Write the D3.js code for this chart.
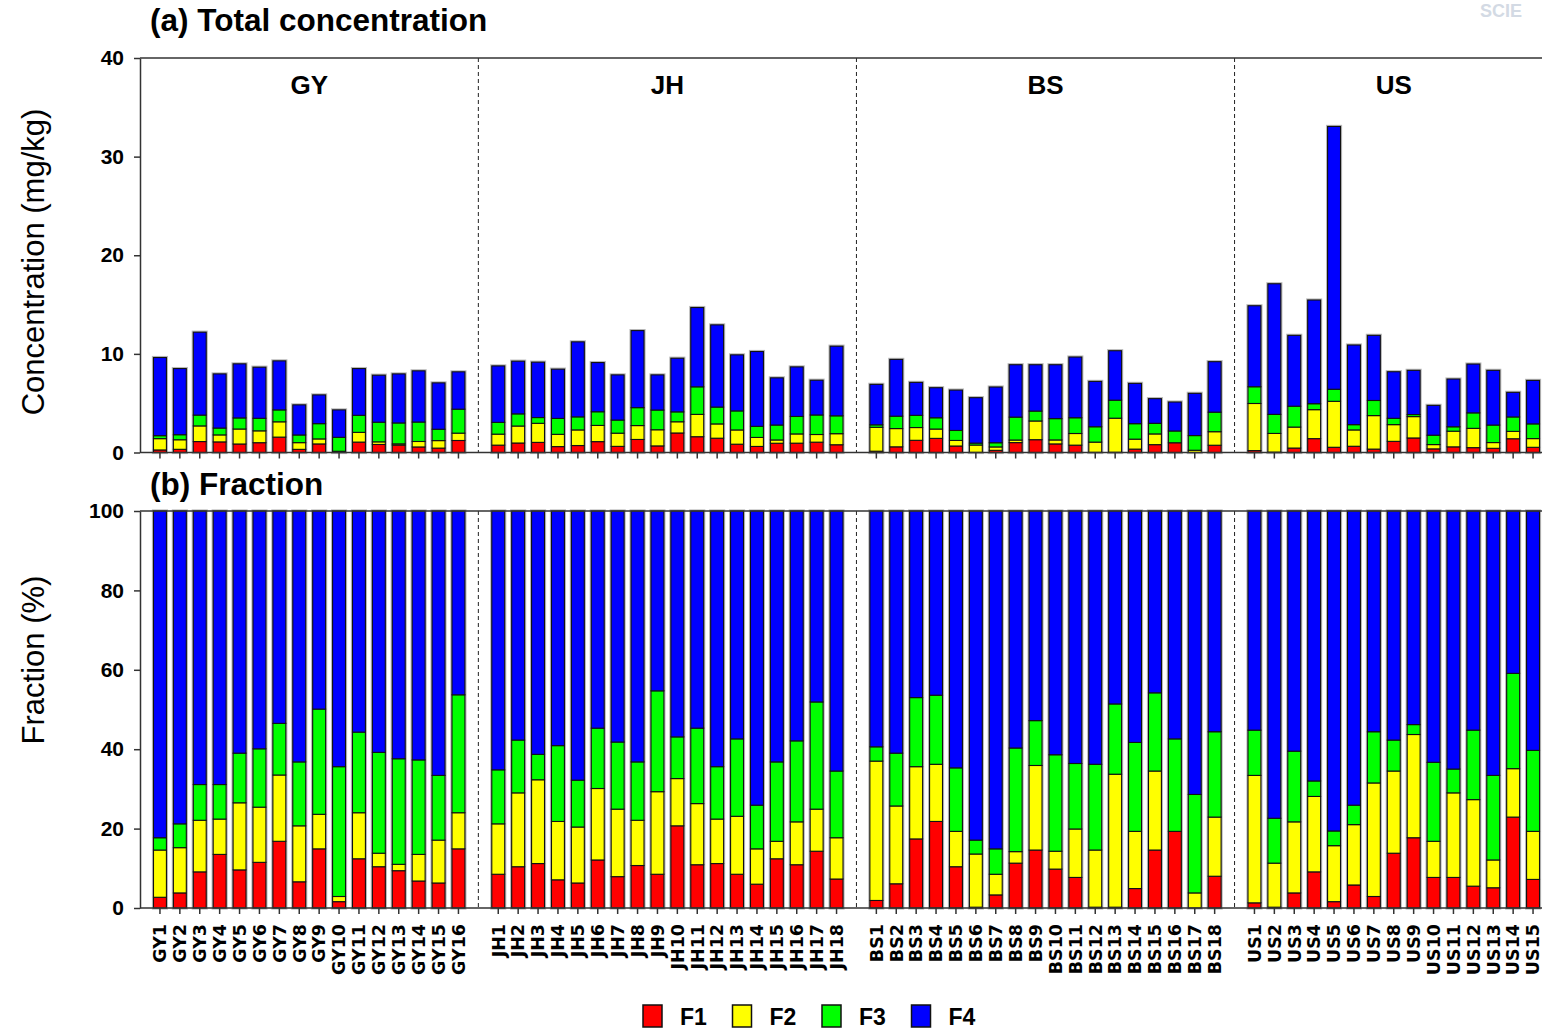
<!DOCTYPE html>
<html>
<head>
<meta charset="utf-8">
<script src="https://cdn.jsdelivr.net/npm/d3@7"></script>
<style>
  body { margin: 0; background: #fff; }
  text { font-family: "Liberation Sans", Arial, Helvetica, sans-serif; }
</style>
</head>
<body>
<svg id="chart" width="1542" height="1032"></svg>
<script>
// ---- data ---------------------------------------------------------------
const sites = ["GY", "JH", "BS", "US"];

const samples = [
  "GY1","GY2","GY3","GY4","GY5","GY6","GY7","GY8","GY9","GY10","GY11","GY12","GY13","GY14","GY15","GY16",
  "JH1","JH2","JH3","JH4","JH5","JH6","JH7","JH8","JH9","JH10","JH11","JH12","JH13","JH14","JH15","JH16","JH17","JH18",
  "BS1","BS2","BS3","BS4","BS5","BS6","BS7","BS8","BS9","BS10","BS11","BS12","BS13","BS14","BS15","BS16","BS17","BS18",
  "US1","US2","US3","US4","US5","US6","US7","US8","US9","US10","US11","US12","US13","US14","US15"
];

const fractions = ["F1", "F2", "F3", "F4"];
const fractionColors = ["#ff0000", "#ffff00", "#00ff00", "#0000ff"];

// total concentration per sample (mg/kg)
const totalConc = [
  9.63, 8.51, 12.20, 7.97, 8.99, 8.65, 9.29, 4.83, 5.84, 4.32, 8.51, 7.84, 7.97, 8.28, 7.06, 8.18,
  8.78, 9.26, 9.16, 8.45, 11.22, 9.12, 7.87, 12.36, 7.87, 9.56, 14.70, 12.94, 9.90, 10.24, 7.57, 8.68, 7.33, 10.78,
  6.91, 9.44, 7.11, 6.57, 6.33, 5.56, 6.64, 8.90, 8.90, 8.90, 9.68, 7.21, 10.32, 7.01, 5.46, 5.12, 6.00, 9.21,
  14.88, 17.11, 11.88, 15.46, 33.06, 10.90, 11.88, 8.19, 8.33, 4.78, 7.45, 8.97, 8.33, 6.10, 7.31
];

// share of each fraction in the total (%)
const pctF1 = [
  2.7, 3.8, 9.1, 13.5, 9.6, 11.5, 16.8, 6.6, 14.9, 1.6, 12.4, 10.4, 9.4, 6.8, 6.3, 14.9,
  8.5, 10.4, 11.2, 7.1, 6.3, 12.1, 7.9, 10.7, 8.5, 20.7, 10.9, 11.2, 8.5, 6.0, 12.4, 10.9, 14.3, 7.3,
  1.9, 6.1, 17.4, 21.8, 10.4, 0.2, 3.3, 11.3, 14.6, 9.8, 7.7, 0.2, 0.2, 4.9, 14.6, 19.3, 0.0, 8.0,
  1.3, 0.2, 3.8, 9.1, 1.6, 5.8, 2.9, 13.8, 17.7, 7.7, 7.7, 5.5, 5.1, 22.9, 7.2
];
const pctF2 = [
  11.9, 11.4, 13.0, 8.9, 16.9, 13.9, 16.7, 14.1, 8.7, 1.3, 11.6, 3.4, 1.6, 6.7, 10.8, 9.1,
  12.7, 18.6, 21.1, 14.7, 14.1, 18.0, 17.0, 11.4, 20.8, 11.9, 15.4, 11.2, 14.6, 8.9, 4.4, 10.8, 10.6, 10.4,
  35.1, 19.6, 18.2, 14.4, 8.9, 13.4, 5.2, 2.9, 21.3, 4.5, 12.2, 14.4, 33.5, 14.4, 19.9, 0.0, 3.8, 14.9,
  32.1, 11.1, 17.9, 19.0, 14.1, 15.2, 28.6, 20.7, 26.0, 9.1, 21.3, 21.8, 7.0, 12.2, 12.1
];
const pctF3 = [
  3.1, 6.0, 9.0, 8.7, 12.5, 14.7, 13.0, 16.1, 26.5, 32.7, 20.3, 25.4, 26.6, 23.8, 16.3, 29.7,
  13.6, 13.3, 6.4, 19.1, 11.8, 15.2, 16.9, 14.7, 25.4, 10.5, 19.0, 13.2, 19.5, 11.0, 20.0, 20.4, 27.0, 16.8,
  3.6, 13.3, 17.4, 17.4, 16.0, 3.5, 6.4, 26.1, 11.3, 24.3, 16.5, 21.6, 17.7, 22.4, 19.7, 23.3, 24.8, 21.5,
  11.4, 11.3, 17.8, 3.9, 3.7, 4.9, 12.9, 7.8, 2.5, 19.9, 6.0, 17.5, 21.3, 24.0, 20.4
];
const pctF4 = [
  82.3, 78.8, 68.9, 68.9, 61.0, 59.9, 53.5, 63.2, 49.9, 64.4, 55.7, 60.8, 62.4, 62.7, 66.6, 46.3,
  65.2, 57.7, 61.3, 59.1, 67.8, 54.7, 58.2, 63.2, 45.3, 56.9, 54.7, 64.4, 57.4, 74.1, 63.2, 57.9, 48.1, 65.5,
  59.4, 61.0, 47.0, 46.4, 64.7, 82.9, 85.1, 59.7, 52.8, 61.4, 63.6, 63.8, 48.6, 58.3, 45.8, 57.4, 71.4, 55.6,
  55.2, 77.4, 60.5, 68.0, 80.6, 74.1, 55.6, 57.7, 53.8, 63.3, 65.0, 55.2, 66.6, 40.9, 60.3
];

const concTicks = [0, 10, 20, 30, 40];
const fracTicks = [0, 20, 40, 60, 80, 100];

// ---- derived tables ------------------------------------------------------
const siteOf = name => name.replace(/\d+$/, "");
const pcts = [pctF1, pctF2, pctF3, pctF4];

const fracRows = samples.map((s, i) => {
  const row = { sample: s };
  const sum = d3.sum(pcts, p => p[i]);
  fractions.forEach((f, k) => { row[f] = pcts[k][i] / sum * 100; });
  return row;
});
const concRows = fracRows.map((r, i) => {
  const row = { sample: r.sample };
  fractions.forEach(f => { row[f] = totalConc[i] * r[f] / 100; });
  return row;
});

// one band per sample, with an empty band between sites
const slots = [];
samples.forEach((s, i) => {
  if (i > 0 && siteOf(s) !== siteOf(samples[i - 1])) slots.push("gap-" + siteOf(s));
  slots.push(s);
});

// ---- layout --------------------------------------------------------------
const svg = d3.select("#chart");
const plotLeft = 140, plotRight = 1600;
const top1 = 58, base1 = 452.5;
const top2 = 511, base2 = 908;

const x = d3.scaleBand().domain(slots).range([150, 1543])
  .paddingInner(0.35).paddingOuter(0.175);
const yConc = d3.scaleLinear().domain([0, 40]).range([base1, top1]);
const yFrac = d3.scaleLinear().domain([0, 100]).range([base2, top2]);

const stack = d3.stack().keys(fractions);
const axisColor = "#333";

function drawPanel(rows, y, ticks, yTop, yBase, showXLabels) {
  const g = svg.append("g");

  // site dividers
  slots.filter(s => s.startsWith("gap-")).forEach(s => {
    const cx = x(s) + x.bandwidth() / 2;
    g.append("line")
      .attr("x1", cx).attr("x2", cx).attr("y1", yTop).attr("y2", yBase)
      .attr("stroke", "#222").attr("stroke-width", 1)
      .attr("stroke-dasharray", "4,3");
  });

  // soft grey halo around each whole bar
  g.selectAll("rect.halo").data(rows).join("rect")
    .attr("class", "halo")
    .attr("x", d => x(d.sample))
    .attr("width", x.bandwidth())
    .attr("y", d => y(d3.sum(fractions, f => d[f])))
    .attr("height", d => y(0) - y(d3.sum(fractions, f => d[f])))
    .attr("fill", "none")
    .attr("stroke", "#b8b8b8")
    .attr("stroke-width", 3.2);

  // bars
  const series = stack(rows);
  const layers = g.selectAll("g.layer").data(series).join("g")
    .attr("class", "layer")
    .attr("fill", (d, k) => fractionColors[k]);
  layers.selectAll("rect").data(d => d).join("rect")
    .attr("x", d => x(d.data.sample))
    .attr("width", x.bandwidth())
    .attr("y", d => y(d[1]))
    .attr("height", d => Math.max(0, y(d[0]) - y(d[1])))
    .attr("stroke", "#111")
    .attr("stroke-width", 1.1);

  // frame
  g.append("line").attr("x1", plotLeft).attr("x2", plotRight)
    .attr("y1", yTop).attr("y2", yTop).attr("stroke", axisColor).attr("stroke-width", 1.5);

  // y axis
  const ya = g.append("g").attr("transform", `translate(${plotLeft},0)`)
    .call(d3.axisLeft(y).tickValues(ticks).tickSize(6).tickSizeOuter(0).tickPadding(10));
  ya.select(".domain").attr("stroke", axisColor).attr("stroke-width", 1.5);
  ya.selectAll(".tick line").attr("stroke", axisColor).attr("stroke-width", 1.5);
  ya.selectAll(".tick text")
    .style("font-size", "21px").style("font-weight", "bold").attr("fill", "#000");

  // x axis
  const xa = g.append("g").attr("transform", `translate(0,${yBase})`)
    .call(d3.axisBottom(x).tickValues(samples).tickSize(6).tickSizeOuter(0));
  xa.select(".domain").remove();
  g.append("line").attr("x1", plotLeft).attr("x2", plotRight)
    .attr("y1", yBase).attr("y2", yBase).attr("stroke", axisColor).attr("stroke-width", 1.5);
  xa.selectAll(".tick line").attr("stroke", axisColor).attr("stroke-width", 1.5);
  if (showXLabels) {
    xa.selectAll(".tick text")
      .attr("transform", "rotate(-90)")
      .attr("x", -16).attr("y", 0).attr("dy", "0.36em")
      .style("text-anchor", "end")
      .style("font-family", "'DejaVu Sans', Verdana, sans-serif")
      .style("font-size", "17.5px").style("font-weight", "bold").attr("fill", "#000");
  } else {
    xa.selectAll(".tick text").remove();
  }
  return g;
}

drawPanel(concRows, yConc, concTicks, top1, base1, false);
drawPanel(fracRows, yFrac, fracTicks, top2, base2, true);

// site names over the top panel
sites.forEach(site => {
  const members = samples.filter(s => siteOf(s) === site);
  const x0 = x(members[0]), x1 = x(members[members.length - 1]) + x.bandwidth();
  svg.append("text")
    .attr("x", (x0 + x1) / 2).attr("y", 94)
    .attr("text-anchor", "middle")
    .style("font-size", "26px").style("font-weight", "bold")
    .text(site);
});

// panel titles
svg.append("text").attr("x", 150).attr("y", 31)
  .style("font-size", "31.5px").style("font-weight", "bold")
  .text("(a) Total concentration");
svg.append("text").attr("x", 150).attr("y", 495)
  .style("font-size", "31.5px").style("font-weight", "bold")
  .text("(b) Fraction");

// axis titles
svg.append("text")
  .attr("transform", `translate(44,262) rotate(-90)`)
  .attr("text-anchor", "middle")
  .style("font-size", "31px")
  .text("Concentration (mg/kg)");
svg.append("text")
  .attr("transform", `translate(44,660) rotate(-90)`)
  .attr("text-anchor", "middle")
  .style("font-size", "31px")
  .text("Fraction (%)");

// legend
const legend = svg.append("g").attr("transform", "translate(643,1005)");
fractions.forEach((f, k) => {
  const lg = legend.append("g").attr("transform", `translate(${k * 89.5},0)`);
  lg.append("rect").attr("width", 19).attr("height", 22)
    .attr("fill", fractionColors[k]).attr("stroke", "#111").attr("stroke-width", 1.5);
  lg.append("text").attr("x", 37).attr("y", 20)
    .style("font-size", "23px").style("font-weight", "bold")
    .text(f);
});

// faint mark in the upper right corner
svg.append("text").attr("x", 1480).attr("y", 17)
  .style("font-size", "18px").style("font-weight", "bold")
  .attr("fill", "#d3dae4")
  .text("SCIE");
</script>
</body>
</html>
